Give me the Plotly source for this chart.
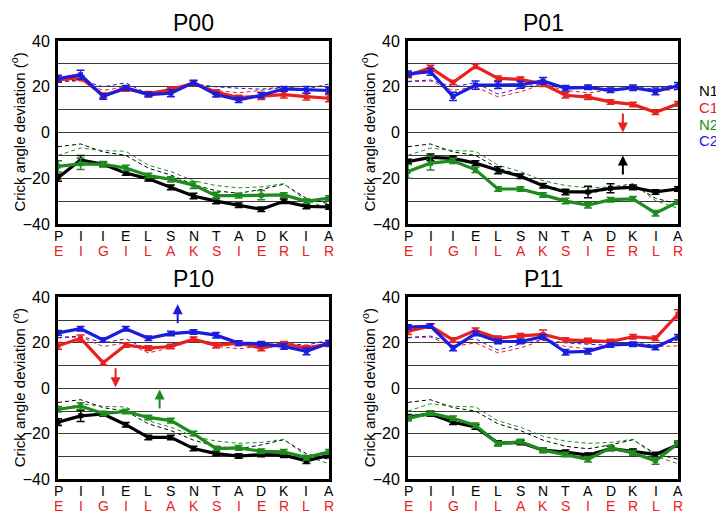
import plotly.graph_objects as go

top_labels = ["P", "I", "I", "E", "L", "S", "N", "T", "A", "D", "K", "I", "A"]
bottom_labels = ["E", "I", "G", "I", "L", "A", "K", "S", "I", "E", "R", "L", "R"]
positions = list(range(13))

panel_titles = ["P00", "P01", "P10", "P11"]

# reference (dashed) curves, same in every panel
ref_N1 = [-6.2, -5.0, -8.5, -10.0, -15.6, -18.6, -22.8, -25.5, -26.6, -24.9, -22.6, -28.8, -31.2]
ref_N2 = [-10.0, -6.8, -7.9, -8.2, -14.3, -17.1, -21.1, -23.2, -24.2, -23.8, -22.4, -29.8, -33.2]
ref_C1 = [22.2, 22.6, 18.4, 20.0, 15.6, 17.8, 21.2, 18.4, 17.4, 18.6, 19.6, 18.4, 18.7]
ref_C2 = [22.4, 23.0, 20.0, 21.8, 16.8, 19.5, 21.3, 20.0, 19.4, 19.0, 19.9, 19.0, 21.3]

# P00
p00_N1 = [-19.8, -12.0, -13.9, -17.7, -20.2, -24.0, -27.8, -30.0, -31.8, -33.6, -30.1, -32.3, -32.6]
p00_C1 = [23.0, 24.0, 16.3, 19.1, 17.0, 18.8, 21.6, 17.7, 15.3, 16.0, 16.6, 15.7, 15.0]
p00_N2 = [-14.8, -13.7, -13.9, -15.5, -18.8, -20.5, -23.0, -27.6, -27.6, -27.4, -27.3, -30.1, -28.7]
p00_C2 = [23.6, 25.3, 15.8, 19.6, 16.6, 17.2, 21.9, 16.6, 14.3, 16.3, 19.1, 18.7, 18.4]
p00_N1_err = [1.5, 2.0, 1.0, 1.0, 1.0, 1.0, 1.2, 1.2, 1.0, 1.0, 1.0, 1.0, 1.0]
p00_C1_err = [1.0, 1.0, 1.0, 1.0, 1.0, 1.0, 1.0, 1.0, 1.0, 1.5, 1.5, 1.5, 1.5]
p00_N2_err = [2.5, 2.5, 1.2, 1.2, 1.0, 1.2, 1.5, 1.5, 1.0, 2.0, 1.0, 1.0, 1.0]
p00_C2_err = [1.5, 2.0, 1.2, 1.0, 1.0, 1.5, 1.0, 1.0, 1.2, 1.2, 1.0, 1.5, 1.2]

# P01
p01_N1 = [-12.7, -10.9, -11.3, -13.4, -16.5, -19.1, -23.3, -26.0, -26.0, -24.4, -24.0, -26.0, -24.7]
p01_C1 = [25.0, 28.3, 21.9, 29.0, 23.7, 23.3, 21.2, 16.3, 15.5, 13.4, 12.3, 8.9, 12.6]
p01_N2 = [-17.0, -13.4, -12.4, -16.3, -24.7, -24.7, -27.3, -30.0, -31.8, -29.4, -29.0, -35.3, -30.4]
p01_C2 = [25.7, 26.6, 15.8, 20.8, 20.8, 20.9, 22.6, 19.4, 19.8, 18.5, 19.6, 18.0, 20.4]
p01_N1_err = [1.0, 1.5, 1.0, 1.0, 1.5, 1.0, 1.0, 1.2, 2.5, 2.0, 1.0, 1.0, 1.0]
p01_C1_err = [1.0, 1.2, 1.0, 1.0, 1.0, 1.0, 1.0, 1.2, 1.0, 1.0, 1.0, 1.0, 1.0]
p01_N2_err = [3.0, 3.0, 1.2, 1.2, 1.0, 1.0, 1.0, 1.2, 1.2, 1.0, 1.0, 1.2, 1.0]
p01_C2_err = [1.2, 1.5, 1.8, 1.8, 1.5, 1.5, 1.5, 1.2, 1.0, 1.0, 1.2, 1.5, 1.5]

# P10
p10_N1 = [-14.9, -12.1, -11.3, -16.0, -21.6, -21.6, -26.5, -28.7, -29.8, -29.1, -29.4, -31.9, -29.5]
p10_C1 = [18.7, 22.0, 11.3, 19.1, 17.7, 18.4, 21.6, 18.9, 19.9, 17.7, 19.6, 17.7, 19.6]
p10_N2 = [-9.2, -7.8, -11.1, -10.2, -12.8, -14.2, -19.9, -26.5, -26.2, -27.7, -27.9, -30.5, -27.9]
p10_C2 = [24.4, 26.2, 21.3, 26.2, 22.0, 24.1, 24.8, 23.4, 19.9, 19.6, 18.4, 16.3, 19.9]
p10_N1_err = [1.5, 2.5, 1.0, 1.0, 1.0, 1.0, 1.0, 1.0, 1.0, 1.0, 1.0, 1.2, 1.0]
p10_C1_err = [1.5, 1.5, 1.0, 1.0, 1.0, 1.0, 1.0, 1.2, 1.0, 1.2, 1.0, 1.0, 1.2]
p10_N2_err = [1.2, 1.5, 1.0, 1.0, 1.0, 1.0, 1.0, 1.0, 1.0, 1.0, 1.0, 1.0, 1.0]
p10_C2_err = [1.0, 1.0, 1.0, 1.0, 1.0, 1.0, 1.0, 1.2, 1.0, 1.0, 1.2, 1.5, 1.2]

# P11
p11_N1 = [-12.5, -11.3, -14.9, -17.0, -24.1, -23.8, -27.2, -28.1, -29.4, -26.5, -27.7, -29.1, -24.8]
p11_C1 = [25.2, 27.4, 21.3, 25.5, 22.0, 23.1, 23.7, 21.3, 21.0, 20.6, 22.7, 22.0, 32.6]
p11_N2 = [-13.2, -10.9, -13.2, -16.3, -24.4, -23.4, -27.2, -29.1, -31.2, -26.2, -28.4, -31.9, -24.1]
p11_C2 = [27.0, 27.4, 17.7, 24.1, 20.6, 20.6, 22.7, 15.9, 16.3, 19.1, 19.4, 18.0, 22.7]
p11_N1_err = [1.0, 1.0, 1.0, 1.0, 1.0, 1.0, 1.0, 1.0, 1.0, 1.0, 1.0, 1.0, 1.0]
p11_C1_err = [1.5, 1.0, 1.0, 1.0, 1.0, 1.0, 2.0, 1.0, 1.0, 1.0, 1.0, 1.0, 2.0]
p11_N2_err = [1.2, 1.0, 1.0, 1.0, 1.0, 1.0, 1.0, 1.0, 1.2, 1.0, 1.0, 1.5, 1.0]
p11_C2_err = [1.0, 1.0, 1.2, 1.0, 1.0, 1.0, 1.0, 1.2, 1.2, 1.0, 1.0, 1.0, 1.0]

panels = [
    dict(N1=p00_N1, C1=p00_C1, N2=p00_N2, C2=p00_C2,
         eN1=p00_N1_err, eC1=p00_C1_err, eN2=p00_N2_err, eC2=p00_C2_err),
    dict(N1=p01_N1, C1=p01_C1, N2=p01_N2, C2=p01_C2,
         eN1=p01_N1_err, eC1=p01_C1_err, eN2=p01_N2_err, eC2=p01_C2_err),
    dict(N1=p10_N1, C1=p10_C1, N2=p10_N2, C2=p10_C2,
         eN1=p10_N1_err, eC1=p10_C1_err, eN2=p10_N2_err, eC2=p10_C2_err),
    dict(N1=p11_N1, C1=p11_C1, N2=p11_N2, C2=p11_C2,
         eN1=p11_N1_err, eC1=p11_C1_err, eN2=p11_N2_err, eC2=p11_C2_err),
]

# arrows: (panel, x, y_tail, y_head, colour key)
arrows = [
    (1, 9.55, 9.0, 0.0, "C1"),
    (1, 9.55, -19.0, -10.0, "N1"),
    (2, 2.55, 9.5, 0.5, "C1"),
    (2, 4.5, -9.5, -0.5, "N2"),
    (2, 5.3, 28.0, 37.0, "C2"),
]

series_names = ["N1", "C1", "N2", "C2"]
colors = {"N1": "#000000", "C1": "#e8211f", "N2": "#1d8c1d", "C2": "#1c1cdc"}
ref_series = {"N1": ref_N1, "C1": ref_C1, "N2": ref_N2, "C2": ref_C2}

# page body margin (8px) is compensated by a slightly smaller figure
OFF = 8
W, H = 724 - OFF, 525 - OFF


def px_x(v):
    return (v - OFF) / W


def px_y(v):
    return 1 - (v - OFF) / H


x_dom = [(px_x(58), px_x(329)), (px_x(408), px_x(678))]
y_dom = [(px_y(223), px_y(34)), (px_y(487), px_y(299))]

FONT = "Liberation Sans, Arial, Helvetica, sans-serif"
fig = go.Figure()

annotations = []
for i, p in enumerate(panels):
    r, c = divmod(i, 2)
    xa = "x" if i == 0 else f"x{i+1}"
    ya = "y" if i == 0 else f"y{i+1}"
    xkey = "xaxis" if i == 0 else f"xaxis{i+1}"
    ykey = "yaxis" if i == 0 else f"yaxis{i+1}"
    # dashed references
    for s in ["N1", "N2", "C1", "C2"]:
        fig.add_trace(go.Scatter(x=positions, y=ref_series[s], mode="lines",
                                 line=dict(color=colors[s], width=1, dash="4px,3px"),
                                 xaxis=xa, yaxis=ya, showlegend=False, hoverinfo="skip"))
    for s in ["C1", "C2", "N1", "N2"]:
        fig.add_trace(go.Scatter(x=positions, y=p[s], mode="lines+markers",
                                 line=dict(color=colors[s], width=3.2),
                                 marker=dict(symbol="square", size=5, color=colors[s]),
                                 error_y=dict(type="data", array=p["e" + s], color=colors[s],
                                              thickness=1.5, width=4),
                                 xaxis=xa, yaxis=ya, showlegend=False, name=s))
    fig.layout[xkey] = dict(domain=x_dom[c], anchor=ya, range=[0, 12], showticklabels=False,
                            showgrid=False, zeroline=False,
                            showline=True, mirror=True, linecolor="black", linewidth=3,
                            ticks="")
    fig.layout[ykey] = dict(domain=y_dom[r], anchor=xa, range=[-40, 40], tickmode="linear",
                            tick0=-40, dtick=20, showgrid=True, gridcolor="#3a3a3a", gridwidth=1,
                            minor=dict(tickmode="linear", tick0=-40, dtick=10, showgrid=True,
                                       gridcolor="#3a3a3a", gridwidth=1, ticks=""),
                            zeroline=False, showline=True, mirror=True, linecolor="black",
                            linewidth=3, ticks="", ticklabelstandoff=2,
                            tickfont=dict(size=16, color="black", family=FONT))
    # two-row residue labels under each panel
    for k in positions:
        annotations.append(dict(text=top_labels[k], xref=xa, yref="paper", x=k,
                                y=y_dom[r][0], yshift=-12, xanchor="center", yanchor="middle",
                                showarrow=False, font=dict(size=14, color="black", family=FONT)))
        annotations.append(dict(text=bottom_labels[k], xref=xa, yref="paper", x=k,
                                y=y_dom[r][0], yshift=-27, xanchor="center", yanchor="middle",
                                showarrow=False, font=dict(size=14, color="#e8211f", family=FONT)))
    # panel title
    annotations.append(dict(text=panel_titles[i], xref="paper", yref="paper",
                            x=(x_dom[c][0] + x_dom[c][1]) / 2,
                            y=y_dom[r][1] + 19 / H, xanchor="center", yanchor="middle",
                            showarrow=False, font=dict(size=23, color="black", family=FONT)))
    # y axis title
    annotations.append(dict(text="Crick angle deviation (<sup>o</sup>)", xref="paper", yref="paper",
                            x=x_dom[c][0] - 40 / W, y=(y_dom[r][0] + y_dom[r][1]) / 2,
                            xanchor="center", yanchor="middle", textangle=-90, showarrow=False,
                            font=dict(size=15, color="black", family=FONT)))

for (pi, ax_x, y0, y1, s) in arrows:
    xa = "x" if pi == 0 else f"x{pi+1}"
    ya = "y" if pi == 0 else f"y{pi+1}"
    annotations.append(dict(x=ax_x, y=y1, ax=ax_x, ay=y0, xref=xa, yref=ya, axref=xa, ayref=ya,
                            showarrow=True, arrowhead=2, arrowsize=1, arrowwidth=2,
                            arrowcolor=colors[s], text=""))

for k, s in enumerate(series_names):
    annotations.append(dict(text=s, xref="paper", yref="paper", x=px_x(708),
                            y=px_y(85 + k * 17.4), xanchor="center", yanchor="middle",
                            showarrow=False, font=dict(size=15, color=colors[s], family=FONT)))

fig.update_layout(width=W, height=H, margin=dict(l=0, r=0, t=0, b=0),
                  paper_bgcolor="white", plot_bgcolor="white",
                  annotations=annotations, showlegend=False,
                  font=dict(family=FONT))
fig.write_html("out.html")
